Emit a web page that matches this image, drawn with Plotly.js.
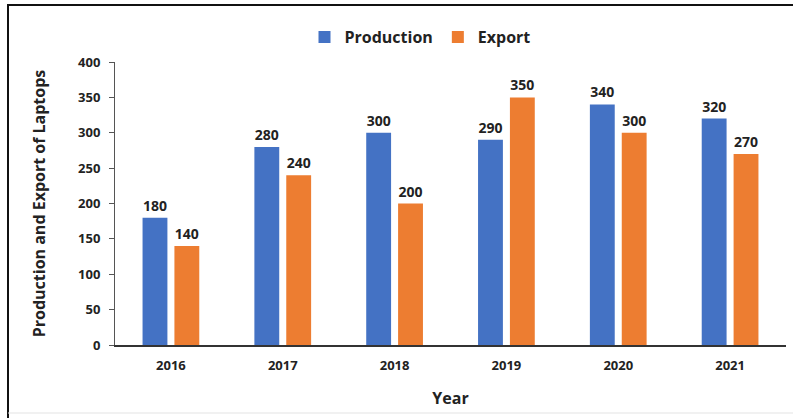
<!DOCTYPE html>
<html>
<head>
<meta charset="utf-8">
<script src="https://cdn.plot.ly/plotly-3.0.1.min.js"></script>
<style>
html,body{margin:0;padding:0;background:#fff;}
#chart{width:793px;height:419px;}
</style>
</head>
<body>
<div id="chart"></div>
<script>
const years = ['2016', '2017', '2018', '2019', '2020', '2021'];
const production = [180, 280, 300, 290, 340, 320];
const exportVals = [140, 240, 200, 350, 300, 270];
const yTicks = [0, 50, 100, 150, 200, 250, 300, 350, 400];

const FONT = '"Open Sans", "Liberation Sans", sans-serif';

const W = 793, H = 419;
const L = 115, R = 786, T = 62, B = 345;
function px(x){ return (x - L) / (R - L); }
function py(y){ return (B - y) / (B - T); }

const traces = [
  {
    type: 'bar', name: 'Production', x: years, y: production,
    marker: {color: '#4472C4'},
    text: production.map(String), textposition: 'outside', cliponaxis: false,
    textfont: {family: FONT, size: 14, color: '#222', weight: 'bold'},
    hoverinfo: 'none'
  },
  {
    type: 'bar', name: 'Export', x: years, y: exportVals,
    marker: {color: '#ED7D31'},
    text: exportVals.map(String), textposition: 'outside', cliponaxis: false,
    textfont: {family: FONT, size: 14, color: '#222', weight: 'bold'},
    hoverinfo: 'none'
  }
];

const layout = {
  width: W, height: H,
  margin: {l: L, r: W - R, t: T, b: H - B, pad: 0},
  paper_bgcolor: '#fff', plot_bgcolor: '#fff',
  font: {family: FONT, color: '#222'},
  barmode: 'group', bargap: 0.43, bargroupgap: 0.22,
  showlegend: true,
  legend: {
    orientation: 'h', x: px(420), xanchor: 'center', y: py(37), yanchor: 'middle',
    font: {family: FONT, size: 16, color: '#222', weight: 'bold'},
    itemwidth: 30, itemsizing: 'constant', traceorder: 'normal'
  },
  xaxis: {
    type: 'category', showline: true, linecolor: '#333', linewidth: 1.5,
    ticks: '', showgrid: false, zeroline: false,
    tickfont: {family: FONT, size: 13, color: '#222', weight: 'bold'},
    ticklabelstandoff: 8,
    title: {text: 'Year', font: {family: FONT, size: 16, color: '#222', weight: 'bold'}, standoff: 19}
  },
  yaxis: {
    range: [0, 400], tickvals: yTicks, ticktext: yTicks.map(String),
    showline: true, linecolor: '#555', linewidth: 1,
    ticks: 'outside', ticklen: 5, tickcolor: '#555',
    showgrid: false, zeroline: false,
    tickfont: {family: FONT, size: 13, color: '#222', weight: 'bold'},
    ticklabelstandoff: 6,
    title: {text: 'Production and Export of Laptops', font: {family: FONT, size: 16, color: '#222', weight: 'bold'}, standoff: 28}
  },
  shapes: [
    {type: 'line', xref: 'paper', yref: 'paper', x0: px(7), x1: px(793), y0: py(5), y1: py(5), line: {color: '#111', width: 2}},
    {type: 'line', xref: 'paper', yref: 'paper', x0: px(8), x1: px(8), y0: py(5), y1: py(418), line: {color: '#111', width: 2}},
    {type: 'line', xref: 'paper', yref: 'paper', x0: px(8), x1: px(793), y0: py(413), y1: py(413), line: {color: '#e3e3e3', width: 1}}
  ]
};

Plotly.newPlot('chart', traces, layout, {displayModeBar: false, staticPlot: true});
</script>
</body>
</html>
